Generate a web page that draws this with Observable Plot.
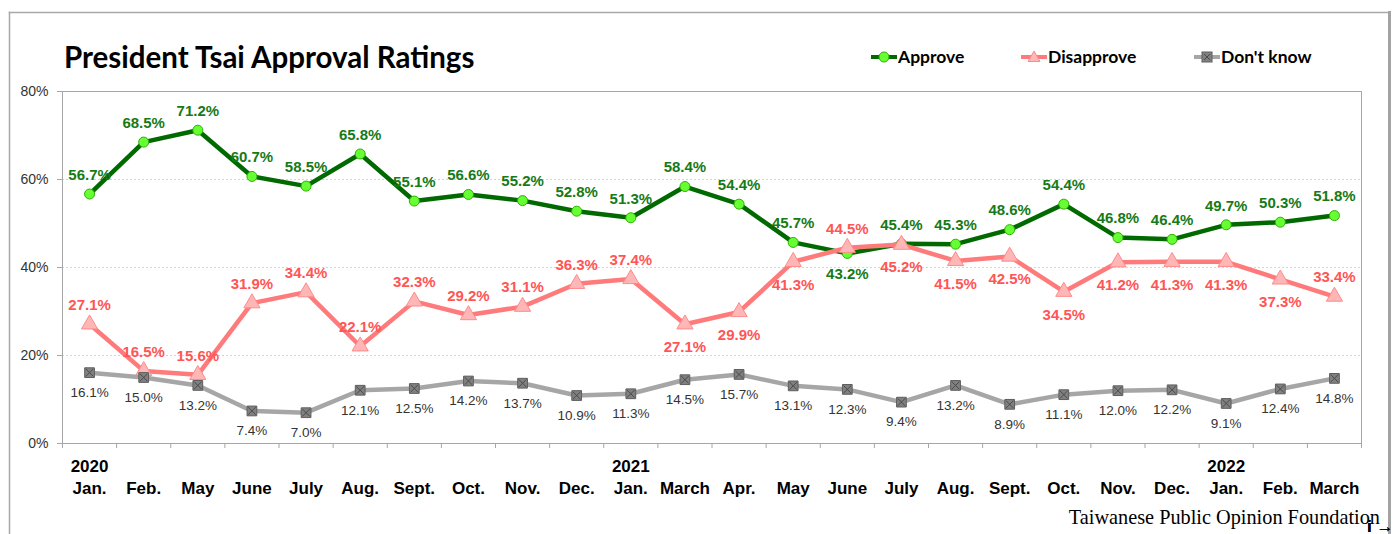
<!DOCTYPE html>
<html>
<head>
<meta charset="utf-8">
<script src="https://cdn.jsdelivr.net/npm/d3@7"></script>
<script src="https://cdn.jsdelivr.net/npm/@observablehq/plot@0.6"></script>
<style>
  html, body { margin: 0; padding: 0; background: #fff; overflow: hidden; width: 1396px; height: 534px; }
  #wrap { position: relative; width: 1396px; height: 534px; overflow: hidden; background: #fff; }
  #chart { position: absolute; left: 0; top: 0; width: 1396px; height: 534px; overflow: hidden; }
  #title { position: absolute; left: 64px; top: 42px; font: bold 29.5px Lato, sans-serif;
           line-height: 29.5px; color: #000; white-space: nowrap; }
  .leg { position: absolute; top: 48px; display: flex; align-items: center; height: 17px;
         font: bold 17.5px Lato, sans-serif; line-height: 17px; color: #000; white-space: nowrap; }
  .leg svg { display: block; margin-right: 1px; }
  #footer { position: absolute; right: 16px; top: 507px; font: 20.3px "Liberation Serif", "Times New Roman", serif;
            line-height: 20px; color: #000; white-space: nowrap; }
</style>
</head>
<body>
<div id="wrap">
  <div id="chart"></div>
  <div id="title">President Tsai Approval Ratings</div>
  <div class="leg" id="leg0" style="left:871px"></div>
  <div class="leg" id="leg1" style="left:1021px"></div>
  <div class="leg" id="leg2" style="left:1194px"></div>
  <div id="footer">Taiwanese Public Opinion Foundation</div>
</div>
<script>
// ---- data ----
const months = ["Jan.","Feb.","May","June","July","Aug.","Sept.","Oct.","Nov.","Dec.",
                "Jan.","March","Apr.","May","June","July","Aug.","Sept.","Oct.","Nov.","Dec.",
                "Jan.","Feb.","March"];
const yearLabels = ["2020","2021","2022"];
const yearIndex = [0, 10, 21];
const approve = [56.7,68.5,71.2,60.7,58.5,65.8,55.1,56.6,55.2,52.8,51.3,58.4,54.4,45.7,43.2,45.4,45.3,48.6,54.4,46.8,46.4,49.7,50.3,51.8];
const disapprove = [27.1,16.5,15.6,31.9,34.4,22.1,32.3,29.2,31.1,36.3,37.4,27.1,29.9,41.3,44.5,45.2,41.5,42.5,34.5,41.2,41.3,41.3,37.3,33.4];
const dontKnow = [16.1,15.0,13.2,7.4,7.0,12.1,12.5,14.2,13.7,10.9,11.3,14.5,15.7,13.1,12.3,9.4,13.2,8.9,11.1,12.0,12.2,9.1,12.4,14.8];
const yTicks = [0, 20, 40, 60, 80];
const seriesNames = ["Approve", "Disapprove", "Don't know"];
// label placement (indices whose label sits below the point)
const approveBelow = [14];
const disapproveBelow = [11,12,13,15,16,17,18,19,20,21,22];

// ---- styles ----
const C = {
  aLine: "#006a00", aFill: "#66ff33", aStroke: "#2fb000", aText: "#167a16",
  dLine: "#ff7a7a", dFill: "#ffb6b6", dStroke: "#ff8a8a", dText: "#ff5555",
  kLine: "#a6a6a6", kFill: "#808080", kStroke: "#5e5e5e", kText: "#333333"
};

const rows = months.map((m, i) => ({i, month: m, approve: approve[i], disapprove: disapprove[i], dontKnow: dontKnow[i]}));
const boundaries = d3.range(25).map(i => i - 0.5);
const pct = v => v.toFixed(1) + "%";
const font = "'Liberation Sans', Arial, sans-serif";

const chart = Plot.plot({
  width: 1396, height: 534,
  marginLeft: 62, marginRight: 35, marginTop: 91, marginBottom: 91,
  style: {background: "transparent", fontFamily: font},
  x: {domain: [-0.5, 23.5]},
  y: {domain: [0, 80]},
  marks: [
    // outer card border (left, top, right) drawn in the margin
    Plot.frame({anchor: "left", stroke: "#a9a9a9", strokeWidth: 1.5, insetLeft: -53, insetTop: -79, insetBottom: -100}),
    Plot.frame({anchor: "top", stroke: "#a9a9a9", strokeWidth: 1.5, insetLeft: -53, insetRight: -27, insetTop: -79}),
    Plot.frame({anchor: "right", stroke: "#a3a3a3", strokeWidth: 3, insetRight: -28, insetTop: -79, insetBottom: -100}),

    Plot.gridY([20, 40, 60], {stroke: "#d4d4d4", strokeOpacity: 1, strokeDasharray: "2,2"}),
    Plot.frame({stroke: "#a6a6a6"}),
    Plot.axisY(yTicks, {tickSize: 5, tickPadding: 9, tickFormat: d => d + "%", fontSize: 14, stroke: "#a6a6a6", fill: "#333"}),
    Plot.ruleX(boundaries, {x: d => d, y1: 0, y2: -1.15, stroke: "#a6a6a6"}),
    Plot.axisX(d3.range(24), {tickSize: 0, tickPadding: 38, tickFormat: i => months[i], fontSize: 17, fontWeight: "bold", fill: "#000"}),
    Plot.axisX(yearIndex, {tickSize: 0, tickPadding: 16, tickFormat: i => yearLabels[yearIndex.indexOf(i)], fontSize: 17, fontWeight: "bold", fill: "#000"}),

    // Approve
    Plot.line(rows, {x: "i", y: "approve", stroke: C.aLine, strokeWidth: 4.5}),
    Plot.dot(rows, {x: "i", y: "approve", r: 5, fill: C.aFill, stroke: C.aStroke, strokeWidth: 1}),
    // Disapprove
    Plot.line(rows, {x: "i", y: "disapprove", stroke: C.dLine, strokeWidth: 4.5}),
    Plot.dot(rows, {x: "i", y: "disapprove", symbol: "triangle", r: 6, fill: C.dFill, stroke: C.dStroke, strokeWidth: 1}),
    // Don't know
    Plot.line(rows, {x: "i", y: "dontKnow", stroke: C.kLine, strokeWidth: 4.5}),
    Plot.dot(rows, {x: "i", y: "dontKnow", symbol: "square", r: 5.5, fill: C.kFill, stroke: C.kStroke, strokeWidth: 1}),
    Plot.dot(rows, {x: "i", y: "dontKnow", symbol: "times", r: 3.5, stroke: "#4a4a4a", strokeWidth: 1}),

    // labels
    Plot.text(rows, {filter: d => !approveBelow.includes(d.i), x: "i", y: "approve", text: d => pct(d.approve), dy: -19, fill: C.aText, fontSize: 15, fontWeight: "bold"}),
    Plot.text(rows, {filter: d => approveBelow.includes(d.i), x: "i", y: "approve", text: d => pct(d.approve), dy: 21, fill: C.aText, fontSize: 15, fontWeight: "bold"}),
    Plot.text(rows, {filter: d => !disapproveBelow.includes(d.i), x: "i", y: "disapprove", text: d => pct(d.disapprove), dy: -19, fill: C.dText, fontSize: 15, fontWeight: "bold"}),
    Plot.text(rows, {filter: d => disapproveBelow.includes(d.i), x: "i", y: "disapprove", text: d => pct(d.disapprove), dy: 23, fill: C.dText, fontSize: 15, fontWeight: "bold"}),
    Plot.text(rows, {x: "i", y: "dontKnow", text: d => pct(d.dontKnow), dy: 20, fill: C.kText, fontSize: 13.5})
  ]
});
document.getElementById("chart").appendChild(chart);

// legend
function legendSwatch(k) {
  const w = 26, h = 14, cx = 13, cy = 7;
  let marker = "";
  if (k === 0) marker = `<circle cx="${cx}" cy="${cy}" r="5" fill="${C.aFill}" stroke="${C.aStroke}"/>`;
  if (k === 1) marker = `<path d="M${cx},${cy-6} L${cx+6},${cy+4.5} L${cx-6},${cy+4.5}Z" fill="${C.dFill}" stroke="${C.dStroke}"/>`;
  if (k === 2) marker = `<rect x="${cx-5}" y="${cy-5}" width="10" height="10" fill="${C.kFill}" stroke="${C.kStroke}"/><path d="M${cx-3},${cy-3}L${cx+3},${cy+3}M${cx+3},${cy-3}L${cx-3},${cy+3}" stroke="#4a4a4a"/>`;
  const lc = [C.aLine, C.dLine, C.kLine][k];
  return `<svg width="${w}" height="${h}"><line x1="0" x2="${w}" y1="${cy}" y2="${cy}" stroke="${lc}" stroke-width="4"/>${marker}</svg>`;
}
seriesNames.forEach((name, k) => {
  const el = document.getElementById("leg" + k);
  el.innerHTML = legendSwatch(k) + `<span>${name}</span>`;
});
</script>
</body>
</html>
